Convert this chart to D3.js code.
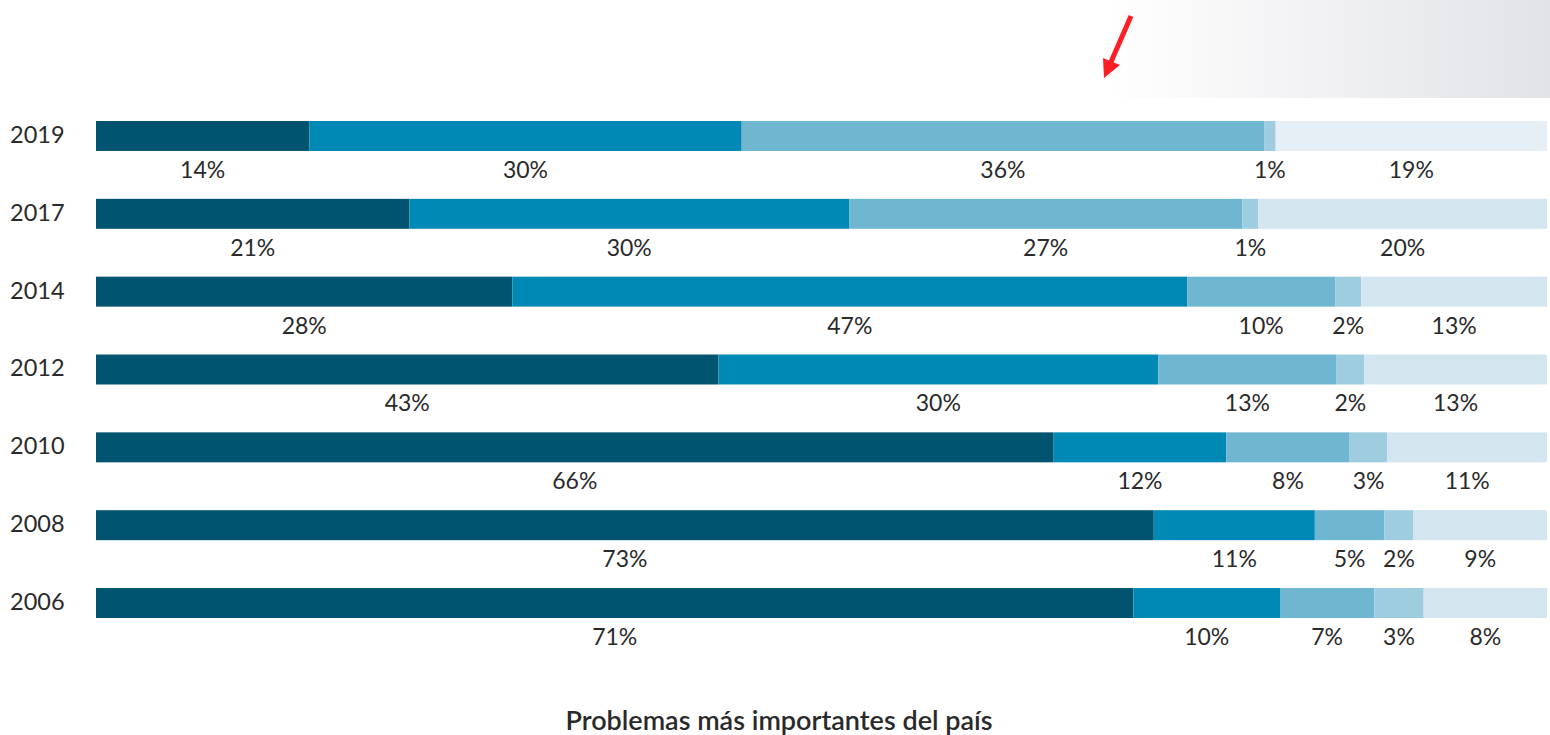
<!DOCTYPE html>
<html><head><meta charset="utf-8">
<script src="https://cdn.jsdelivr.net/npm/d3@7"></script>
<style>body{margin:0;background:#fff;}svg{display:block;}text{font-family:Lato,"Open Sans",sans-serif;}</style>
</head><body><svg id="c" width="1550" height="735"></svg>
<script>
const years = ["2019","2017","2014","2012","2010","2008","2006"];
const seriesKeys = ["s1","s2","s3","s4","s5"];
// segment values (as drawn)
const s1 = [14.7, 21.6, 28.7, 42.9, 66.0, 72.9, 71.5];
const s2 = [29.8, 30.3, 46.5, 30.3, 11.9, 11.1, 10.1];
const s3 = [36.0, 27.1, 10.2, 12.3, 8.5, 4.8, 6.5];
const s4 = [0.8, 1.1, 1.8, 1.9, 2.6, 2.0, 3.4];
const s5 = [18.7, 19.9, 12.8, 12.6, 11.0, 9.2, 8.5];
// printed labels
const l1 = ["14%","21%","28%","43%","66%","73%","71%"];
const l2 = ["30%","30%","47%","30%","12%","11%","10%"];
const l3 = ["36%","27%","10%","13%","8%","5%","7%"];
const l4 = ["1%","1%","2%","2%","3%","2%","3%"];
const l5 = ["19%","20%","13%","13%","11%","9%","8%"];
const colors = ["#00546f","#0189b5","#6fb7d1","#9ecde0","#d3e6ef"];
const title = "Problemas más importantes del país";

const vals = [s1,s2,s3,s4,s5], labs=[l1,l2,l3,l4,l5];
const rows = years.map((y,i)=>{const r={year:y}; seriesKeys.forEach((k,j)=>{r[k]=vals[j][i]; r["lab_"+k]=labs[j][i];}); return r;});
const stacked = d3.stack().keys(seriesKeys)(rows);

const svg = d3.select("#c");
const defs = svg.append("defs");
const g = defs.append("linearGradient").attr("id","gr");
g.append("stop").attr("offset","0%").attr("stop-color","#ffffff");
g.append("stop").attr("offset","100%").attr("stop-color","#e2e3e7");
svg.append("rect").attr("x",1105).attr("y",0).attr("width",445).attr("height",98).attr("fill","url(#gr)");
// red arrow
svg.append("line").attr("x1",1131).attr("y1",16).attr("x2",1111).attr("y2",62).attr("stroke","#ff1e26").attr("stroke-width",5);
svg.append("path").attr("d","M1104,78 L1103,58 L1120,65 Z").attr("fill","#ff1e26");

const x = d3.scaleLinear().domain([0,100]).range([96,1547]);
const y = d3.scaleBand().domain(years).range([121,618]).paddingInner(0.615).paddingOuter(0);

const layer = svg.selectAll("g.layer").data(stacked).join("g").attr("class","layer")
  .attr("fill",(d,i)=>colors[i]);
layer.selectAll("rect").data(d=>d.map(p=>({p,key:d.key}))).join("rect")
  .attr("x",d=>x(d.p[0])).attr("width",d=>x(d.p[1])-x(d.p[0]))
  .attr("y",d=>y(d.p.data.year)).attr("height",y.bandwidth())
  .attr("fill",d=>(d.key==="s5"&&d.p.data.year==="2019")?"#e5eff5":null);
layer.selectAll("text").data(d=>d.map(p=>({p,key:d.key}))).join("text")
  .attr("x",d=>(x(d.p[0])+x(d.p[1]))/2)
  .attr("y",d=>y(d.p.data.year)+y.bandwidth()+27)
  .attr("text-anchor","middle").attr("font-size",23).attr("fill","#2a2a2a")
  .text(d=>d.p.data["lab_"+d.key]);

svg.append("g").selectAll("text").data(years).join("text")
  .attr("x",10).attr("y",d=>y(d)+y.bandwidth()/2+1).attr("dominant-baseline","middle")
  .attr("font-size",23.5).attr("fill","#2a2a2a").text(d=>d);

svg.append("text").attr("x",779).attr("y",730).attr("text-anchor","middle")
  .attr("font-size",27).attr("font-weight",600).attr("fill","#2a2a2a").text(title);
</script></body></html>
